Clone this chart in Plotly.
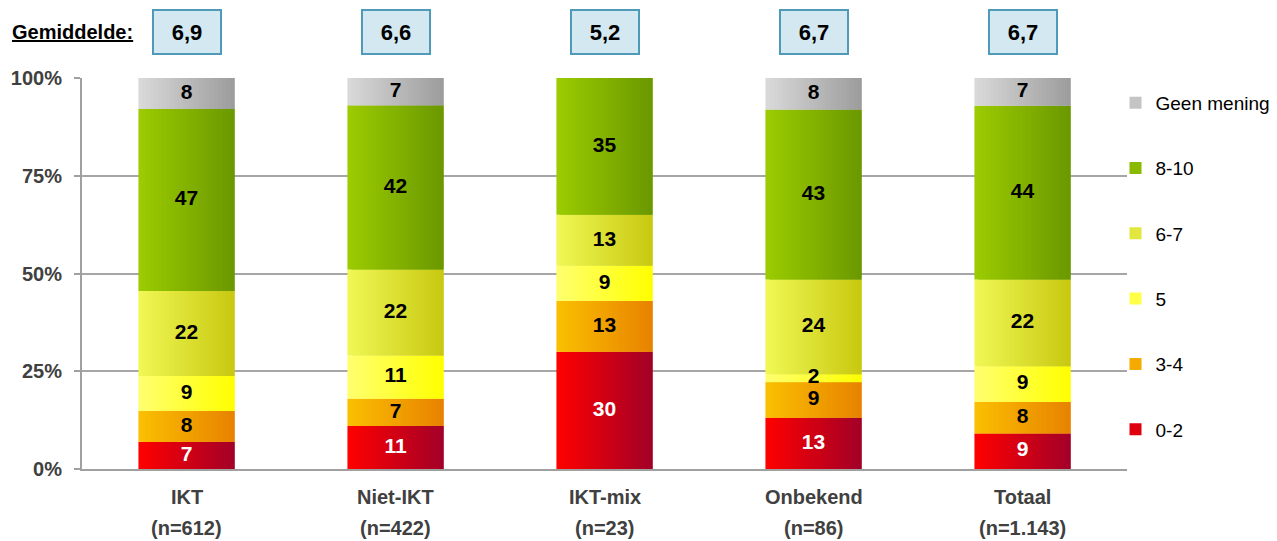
import plotly.graph_objects as go
import numpy as np

categories = ["IKT", "Niet-IKT", "IKT-mix", "Onbekend", "Totaal"]
n_labels = ["(n=612)", "(n=422)", "(n=23)", "(n=86)", "(n=1.143)"]
gemiddelde = ["6,9", "6,6", "5,2", "6,7", "6,7"]

series_names = ["0-2", "3-4", "5", "6-7", "8-10", "Geen mening"]
v_0_2 = [7, 11, 30, 13, 9]
v_3_4 = [8, 7, 13, 9, 8]
v_5 = [9, 11, 9, 2, 9]
v_6_7 = [22, 22, 13, 24, 22]
v_8_10 = [47, 42, 35, 43, 44]
v_geen = [8, 7, 0, 8, 7]
series_values = [v_0_2, v_3_4, v_5, v_6_7, v_8_10, v_geen]

grad_left = ["#ff0000", "#fac000", "#ffff70", "#f0f855", "#9ccc00", "#dadada"]
grad_right = ["#a20028", "#e88200", "#ffff00", "#c8c810", "#6a9800", "#9c9c9c"]
text_colors = ["white", "black", "black", "black", "black", "black"]

yticks = [0, 25, 50, 75, 100]
ytick_text = ["0%", "25%", "50%", "75%", "100%"]

FONT = "Liberation Sans, Arial, sans-serif"


def hex2rgb(h):
    h = h.lstrip("#")
    return np.array([int(h[i:i + 2], 16) for i in (0, 2, 4)], dtype=float)


def mix(a, b, t):
    c = hex2rgb(a) * (1 - t) + hex2rgb(b) * t
    return "rgb(%d,%d,%d)" % tuple(np.round(c).astype(int))


vals = np.array(series_values, dtype=float)
totals = vals.sum(axis=0)
heights = vals / totals * 100.0
bases = np.vstack([np.zeros(len(categories)), np.cumsum(heights, axis=0)[:-1]])

x = np.arange(len(categories))
BAR_W = 0.46
N = 24
sw = BAR_W / N

fig = go.Figure()
for s, name in enumerate(series_names):
    for i in range(N):
        t = (i + 0.5) / N
        w = sw * 2.0 if i < N - 1 else sw
        fig.add_trace(go.Bar(
            x=x, y=heights[s], base=bases[s],
            width=w, offset=-BAR_W / 2 + i * sw,
            marker=dict(color=mix(grad_left[s], grad_right[s], t), line=dict(width=0)),
            name=name, legendgroup=name, legendrank=100 - s,
            showlegend=(i == N // 3),
            hoverinfo="skip",
        ))

for s, name in enumerate(series_names):
    mask = vals[s] > 0
    fig.add_trace(go.Scatter(
        x=x[mask], y=(bases[s] + heights[s] / 2)[mask],
        text=[str(int(v)) for v in vals[s][mask]],
        mode="text", textposition="middle center",
        textfont=dict(family=FONT, size=21, color=text_colors[s], weight="bold"),
        showlegend=False, hoverinfo="skip",
    ))

ann = []
ann.append(dict(x=-0.069, xref="paper", y=1.118, yref="paper", xanchor="left", yanchor="middle",
                text="<b><u>Gemiddelde:</u></b>", showarrow=False,
                font=dict(family=FONT, size=20, color="black")))
for i, g in enumerate(gemiddelde):
    ann.append(dict(x=x[i], xref="x", y=1.118, yref="paper", xanchor="center", yanchor="middle",
                    text="<b>%s</b>" % g, showarrow=False, width=64, height=40,
                    bgcolor="#d3e8f0", bordercolor="#4f9ab8", borderwidth=2, borderpad=1,
                    font=dict(family=FONT, size=22, color="black")))
    ann.append(dict(x=x[i], xref="x", y=-0.072, yref="paper", xanchor="center", yanchor="middle",
                    text="<b>%s</b>" % categories[i], showarrow=False,
                    font=dict(family=FONT, size=20, color="#404040")))
    ann.append(dict(x=x[i], xref="x", y=-0.151, yref="paper", xanchor="center", yanchor="middle",
                    text="<b>%s</b>" % n_labels[i], showarrow=False,
                    font=dict(family=FONT, size=20, color="#404040")))

fig.update_layout(
    width=1277, height=541,
    margin=dict(l=82, r=150, t=78, b=72, autoexpand=False),
    barmode="overlay",
    plot_bgcolor="white", paper_bgcolor="white",
    font=dict(family=FONT, color="#404040"),
    annotations=ann,
    legend=dict(traceorder="grouped", tracegroupgap=37.6,
                x=0.989, xanchor="left", y=0.985, yanchor="top",
                font=dict(family=FONT, size=19, color="black"),
                itemwidth=30, bgcolor="rgba(0,0,0,0)"),
    xaxis=dict(range=[-0.5, len(categories) - 0.5], showticklabels=False, ticks="",
               showline=True, linecolor="#a0a0a0", linewidth=2, showgrid=False, zeroline=False),
    yaxis=dict(range=[0, 100], tickvals=yticks, ticktext=["<b>%s</b>" % t for t in ytick_text],
               tickfont=dict(family=FONT, size=20, color="#404040"),
               ticks="outside", ticklen=6, tickcolor="#a0a0a0", tickwidth=2,
               ticklabelstandoff=8,
               showline=True, linecolor="#a0a0a0", linewidth=2,
               gridcolor="#a6a6a6", gridwidth=2, zeroline=False),
)

fig.write_html("out.html")
